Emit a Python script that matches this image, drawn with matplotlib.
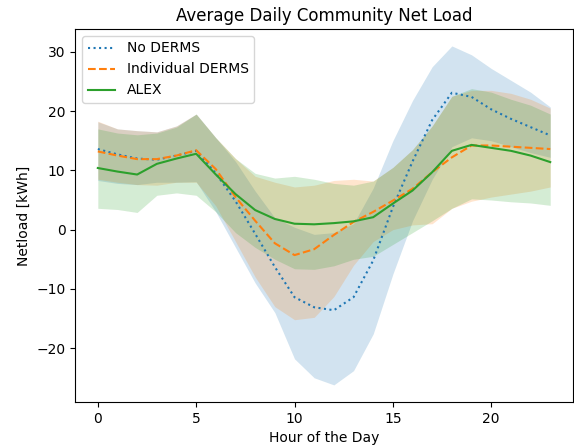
import numpy as np
import matplotlib
matplotlib.use("Agg")
import matplotlib.pyplot as plt

hours = np.arange(24)

# mean net load per hour [kWh]
no_derms = [13.6, 12.7, 12.0, 11.8, 12.5, 13.3, 9.5, 4.8, -0.7, -6.3, -11.4, -13.1,
            -13.6, -11.4, -5.2, 3.8, 11.5, 18.5, 23.1, 22.4, 20.3, 18.7, 17.3, 15.9]
indiv = [13.2, 12.5, 11.9, 11.9, 12.5, 13.4, 10.2, 5.5, 1.5, -2.3, -4.3, -3.3,
         -0.9, 1.3, 3.0, 4.9, 6.9, 9.7, 12.2, 14.2, 14.2, 14.0, 13.8, 13.6]
alex = [10.4, 9.8, 9.3, 11.1, 12.0, 12.8, 9.3, 6.0, 3.3, 1.8, 1.0, 0.9,
        1.1, 1.4, 2.1, 4.4, 6.6, 9.7, 13.3, 14.3, 13.8, 13.3, 12.5, 11.4]

# band limits
no_derms_hi = [18.2, 17.0, 16.7, 16.5, 17.5, 19.5, 15.5, 11.5, 6.5, 2.0, 0.4, -0.8,
               -0.5, 1.0, 7.0, 15.0, 21.8, 27.5, 31.0, 29.5, 27.2, 25.2, 23.2, 20.7]
no_derms_lo = [8.3, 7.8, 7.6, 8.0, 8.0, 8.1, 3.0, -3.0, -9.0, -14.0, -21.8, -25.0,
               -26.2, -23.8, -17.6, -7.5, 1.5, 8.5, 14.0, 15.5, 15.0, 14.0, 13.0, 12.2]
indiv_hi = [18.3, 17.0, 16.7, 16.5, 17.5, 19.5, 15.5, 12.0, 9.0, 8.0, 7.2, 7.5,
            8.3, 8.5, 8.2, 10.5, 13.5, 17.5, 22.5, 23.5, 23.5, 23.0, 22.0, 20.5]
indiv_lo = [8.5, 8.0, 7.6, 7.5, 8.0, 8.0, 4.0, -2.0, -8.0, -13.0, -15.2, -14.8,
            -11.3, -6.0, -2.0, 0.0, 0.8, 1.0, 3.6, 4.8, 5.5, 6.0, 6.5, 7.2]
alex_hi = [17.0, 16.3, 16.0, 16.3, 17.3, 19.5, 15.5, 12.0, 9.5, 8.7, 9.0, 8.5,
           7.8, 7.5, 8.2, 10.5, 13.5, 17.5, 22.5, 23.8, 23.2, 22.0, 21.0, 19.5]
alex_lo = [3.6, 3.4, 2.9, 5.8, 6.2, 5.8, 3.0, -0.5, -3.0, -5.0, -6.6, -6.7,
           -6.1, -5.0, -4.5, -2.5, -0.5, 1.5, 3.6, 5.2, 5.0, 4.7, 4.5, 4.1]

fig, ax = plt.subplots(figsize=(5.74, 4.46), dpi=100)
fig.subplots_adjust(left=0.131, right=0.998, top=0.935, bottom=0.099)

ax.plot(hours, no_derms, ':', color='C0', label='No DERMS')
ax.fill_between(hours, no_derms_lo, no_derms_hi, color='C0', alpha=0.2, linewidth=0)
ax.plot(hours, indiv, '--', color='C1', label='Individual DERMS')
ax.fill_between(hours, indiv_lo, indiv_hi, color='C1', alpha=0.2, linewidth=0)
ax.plot(hours, alex, '-', color='C2', label='ALEX')
ax.fill_between(hours, alex_lo, alex_hi, color='C2', alpha=0.2, linewidth=0)

ax.set_title('Average Daily Community Net Load')
ax.set_xlabel('Hour of the Day')
ax.set_ylabel('Netload [kWh]')
ax.legend(loc='upper left')

fig.savefig('out.png', dpi=100)
